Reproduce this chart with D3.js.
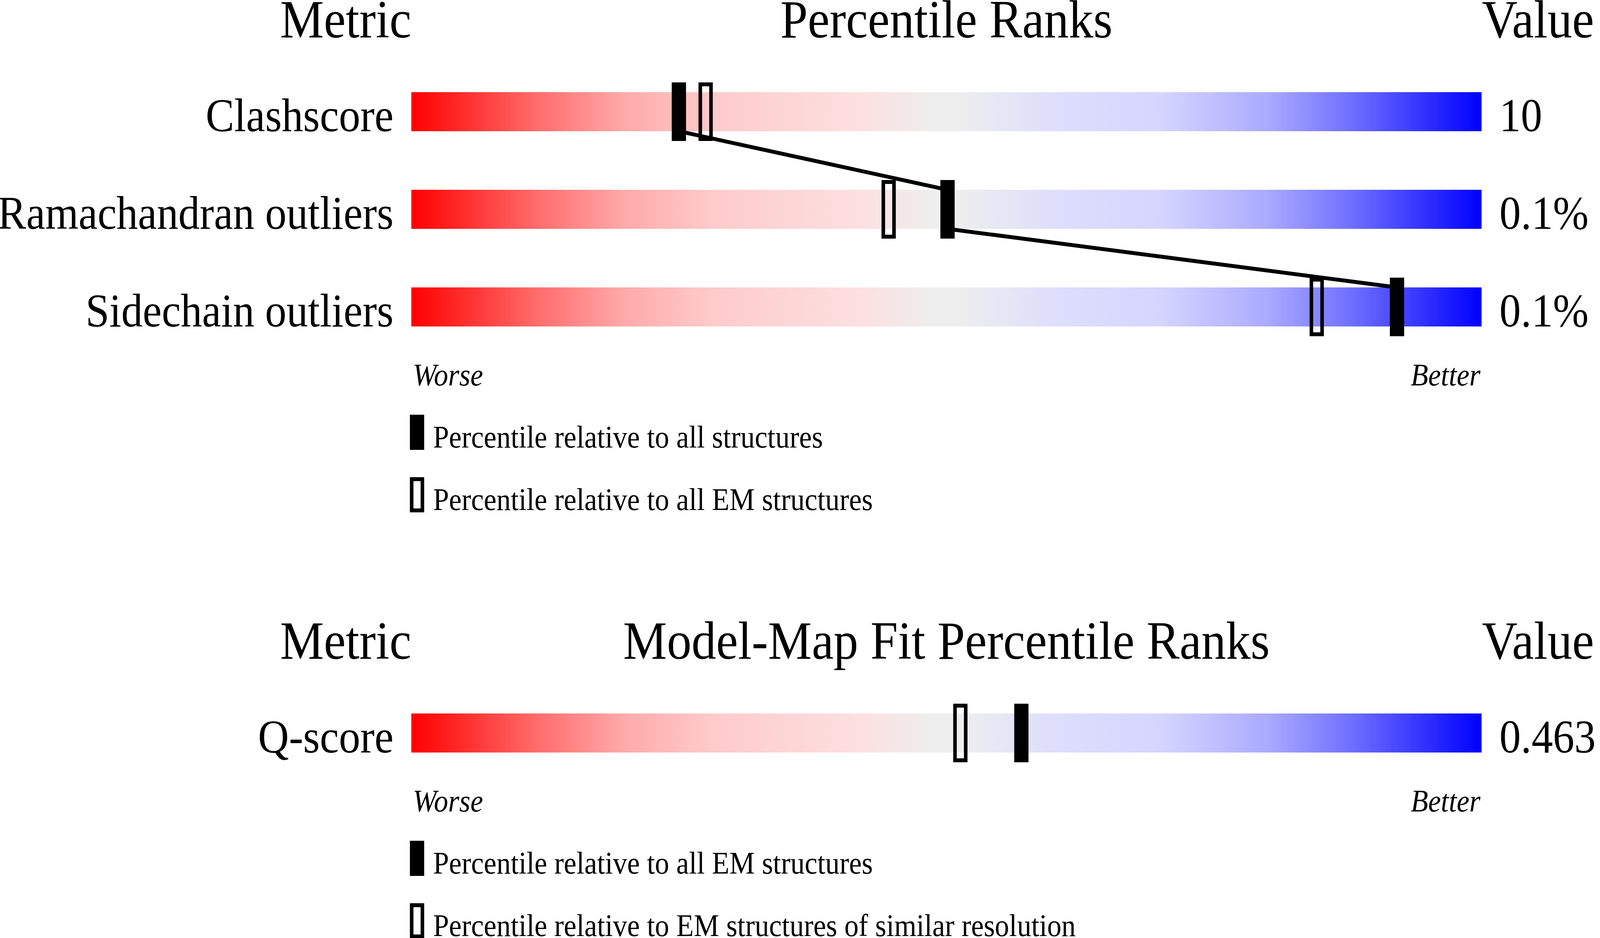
<!DOCTYPE html>
<html>
<head>
    <title>Percentile ranks slider</title>
    <style>
        html, body { margin: 0; padding: 0; background: #fff; overflow: hidden; }
        svg { display: block; }
    </style>
</head>
<body>
    <script src="https://d3js.org/d3.v7.min.js" charset="utf-8"></script>
    <script>

        // data
        var geomMetrics = ["Clashscore", "Ramachandran outliers", "Sidechain outliers"];
        var geomValues = ["10", "0.1%", "0.1%"];
        var geomPctAll = [25.0, 50.1, 92.1];   // filled markers
        var geomPctEM = [27.5, 44.6, 84.6];    // open markers
        var geomLegend = ["Percentile relative to all structures",
                          "Percentile relative to all EM structures"];

        var fitMetrics = ["Q-score"];
        var fitValues = ["0.463"];
        var fitPctEM = [57.0];
        var fitPctRes = [51.3];
        var fitLegend = ["Percentile relative to all EM structures",
                         "Percentile relative to EM structures of similar resolution"];

        var width = 4485,
            height = 2402,
            barLeft = 1153,
            barRight = 4153,
            barH = 100,
            rowStep = 250,
            markW = 40,
            markOver = 25,
            fontFam = "'Liberation Serif', 'Times New Roman', Times, serif";

        // the drawing is laid out in 4485x2402 units and scaled to the window
        var svg = d3.select("body").append("svg")
            .attr("width", "100vw")
            .attr("height", "100vh")
            .attr("viewBox", "0 0 " + width + " " + height)
            .attr("preserveAspectRatio", "none");

        // red -> grey -> blue slider gradient
        var grad = svg.append("defs").append("linearGradient")
            .attr("id", "slider")
            .attr("x1", "0%").attr("x2", "100%")
            .attr("y1", "0%").attr("y2", "0%");
        [[0, "#ff0000"], [0.12, "#ff6e6e"], [0.2, "#ffaaaa"], [0.28, "#ffcaca"],
         [0.35, "#fdd5d5"], [0.42, "#fde0e0"], [0.49, "#eeeeee"], [0.51, "#eeeeee"],
         [0.6, "#dedefd"], [0.7, "#d5d5ff"], [0.8, "#aaaaff"], [0.88, "#6e6eff"],
         [1, "#0000ff"]]
            .forEach(function(s) {
                grad.append("stop").attr("offset", s[0]).attr("stop-color", s[1]);
            });

        var x = d3.scaleLinear().domain([0, 100]).range([barLeft, barRight]);

        function drawPanel(top, title, metrics, values, pctFill, pctOpen, legend, joinLine) {
            var g = svg.append("g");
            var n = metrics.length;
            // row index -> top of bar
            var y = d3.scaleLinear().domain([0, 1]).range([top, top + rowStep]);

            // headers
            var hy = top - 140;
            g.append("text").attr("x", barLeft).attr("y", hy)
                .attr("text-anchor", "end").text("Metric");
            g.append("text").attr("x", (barLeft + barRight) / 2).attr("y", hy)
                .attr("text-anchor", "middle").text(title);
            g.append("text").attr("x", barRight + 1).attr("y", hy)
                .attr("text-anchor", "start").text("Value");
            g.selectAll("text").attr("font-family", fontFam).attr("font-size", 138);

            // bars
            g.selectAll(".bar").data(metrics).enter().append("rect")
                .attr("class", "bar")
                .attr("x", barLeft)
                .attr("y", function(d, i) { return y(i); })
                .attr("width", barRight - barLeft)
                .attr("height", barH)
                .attr("fill", "url(#slider)");

            // row labels and values
            g.selectAll(".lab").data(metrics).enter().append("text")
                .attr("class", "lab")
                .attr("x", barLeft - 50)
                .attr("y", function(d, i) { return y(i) + barH; })
                .attr("text-anchor", "end")
                .attr("font-family", fontFam).attr("font-size", 120)
                .text(function(d) { return d; });
            g.selectAll(".val").data(values).enter().append("text")
                .attr("class", "val")
                .attr("x", barRight + 50)
                .attr("y", function(d, i) { return y(i) + barH; })
                .attr("font-family", fontFam).attr("font-size", 120)
                .text(function(d) { return d; });

            // open markers
            g.selectAll(".open").data(pctOpen).enter().append("rect")
                .attr("class", "open")
                .attr("x", function(d) { return x(d) - markW / 2 + 5; })
                .attr("y", function(d, i) { return y(i) - markOver + 5; })
                .attr("width", markW - 10)
                .attr("height", barH + 2 * markOver - 10)
                .attr("fill", "none")
                .attr("stroke", "#000")
                .attr("stroke-width", 10);

            // connecting line between filled markers
            if (joinLine && n > 1) {
                var pts = [];
                pctFill.forEach(function(d, i) {
                    if (i > 0) pts.push([x(d), y(i)]);
                    if (i < n - 1) pts.push([x(d), y(i) + barH]);
                });
                g.append("path")
                    .attr("d", d3.line()(pts))
                    .attr("fill", "none")
                    .attr("stroke", "#000")
                    .attr("stroke-width", 10);
            }

            // filled markers
            g.selectAll(".fill").data(pctFill).enter().append("rect")
                .attr("class", "fill")
                .attr("x", function(d) { return x(d) - markW / 2; })
                .attr("y", function(d, i) { return y(i) - markOver; })
                .attr("width", markW)
                .attr("height", barH + 2 * markOver)
                .attr("fill", "#000");

            // worse / better
            var last = y(n - 1) + barH;
            g.append("text").attr("x", barLeft + 4).attr("y", last + 151)
                .attr("font-family", fontFam).attr("font-size", 80)
                .attr("font-style", "italic").text("Worse");
            g.append("text").attr("x", barRight - 3).attr("y", last + 151)
                .attr("text-anchor", "end")
                .attr("font-family", fontFam).attr("font-size", 80)
                .attr("font-style", "italic").text("Better");

            // legend
            var lg = g.selectAll(".leg").data(legend).enter().append("g")
                .attr("class", "leg")
                .attr("transform", function(d, i) {
                    return "translate(" + (barLeft - 4) + "," + (last + 226 + i * 160) + ")";
                });
            lg.append("rect")
                .attr("x", function(d, i) { return i ? 5 : 0; })
                .attr("y", function(d, i) { return i ? 5 : 0; })
                .attr("width", function(d, i) { return i ? 30 : 40; })
                .attr("height", function(d, i) { return i ? 80 : 90; })
                .attr("fill", function(d, i) { return i ? "none" : "#000"; })
                .attr("stroke", function(d, i) { return i ? "#000" : "none"; })
                .attr("stroke-width", 10);
            lg.append("text")
                .attr("x", 65)
                .attr("y", 84)
                .attr("font-family", fontFam).attr("font-size", 80)
                .text(function(d) { return d; });
        }

        drawPanel(236, "Percentile Ranks", geomMetrics, geomValues,
                  geomPctAll, geomPctEM, geomLegend, true);
        drawPanel(1827, "Model-Map Fit Percentile Ranks", fitMetrics, fitValues,
                  fitPctEM, fitPctRes, fitLegend, false);
    </script>
</body>
</html>
